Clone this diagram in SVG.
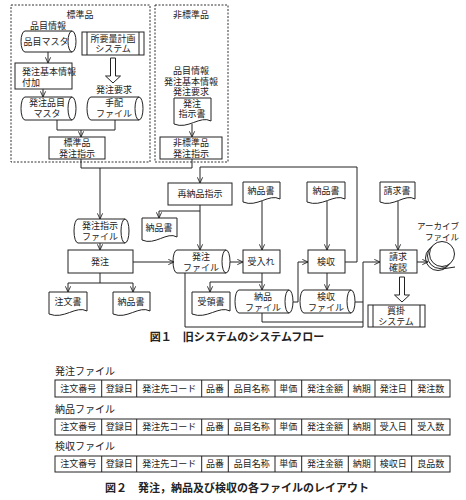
<svg xmlns="http://www.w3.org/2000/svg" width="466" height="500" viewBox="0 0 466 500">
<defs>
<marker id="ar" viewBox="0 0 8 8" refX="7.5" refY="4" markerWidth="7" markerHeight="7" markerUnits="userSpaceOnUse" orient="auto">
<path d="M1,1 L7.5,4 L1,7" fill="none" stroke="#222" stroke-width="1"/>
</marker>
</defs>
<style>
text{font-family:"Liberation Sans","Noto Sans CJK JP",sans-serif;font-size:9px;fill:#222;text-anchor:middle;dominant-baseline:central}
.s{fill:#fff;stroke:#222;stroke-width:1}
.d{fill:none;stroke:#333;stroke-width:1;stroke-dasharray:2 1.5}
.c{fill:none;stroke:#222;stroke-width:1}
.a{fill:none;stroke:#222;stroke-width:1;marker-end:url(#ar)}
.l{text-anchor:start}
.cap{font-size:11px;font-weight:bold}
.t{font-size:10px}
.sm{font-size:8.5px}
</style>
<rect width="466" height="500" fill="#fff"/>

<g id="std">
<rect class="d" x="11" y="5" width="139" height="157"/>
<text x="80" y="15">標準品</text>
<text x="48" y="26">品目情報</text>
</g>
<g id="hinmoku-master">
<path class="s" d="M25,31 H72 A4,10.5 0 0 1 72,52 A4,10.5 0 0 1 72,31 M72,52 H25 A4,10.5 0 0 1 25,31"/>
<text x="46" y="42">品目マスタ</text>
</g>
<g id="shoyoryo">
<rect class="s" x="82" y="32" width="62" height="23"/>
<line class="c" x1="87" y1="32" x2="87" y2="55"/>
<line class="c" x1="139" y1="32" x2="139" y2="55"/>
<text x="113" y="38.5">所要量計画</text>
<text x="113" y="49">システム</text>
</g>
<g id="fuka">
<rect class="s" x="15" y="63" width="57" height="26"/>
<text class="l" x="22" y="71.5">発注基本情報</text>
<text class="l" x="22" y="82.5">付加</text>
</g>
<g id="hatchu-hinmoku-master">
<path class="s" d="M25,97 H72 A4,11.5 0 0 1 72,120 A4,11.5 0 0 1 72,97 M72,120 H25 A4,11.5 0 0 1 25,97"/>
<text x="47" y="103">発注品目</text>
<text x="47" y="114">マスタ</text>
</g>
<g id="tehai">
<text x="114" y="90">発注要求</text>
<path class="s" d="M91,97 H139 A4,11.5 0 0 1 139,120 A4,11.5 0 0 1 139,97 M139,120 H91 A4,11.5 0 0 1 91,97"/>
<text x="114" y="103">手配</text>
<text x="114" y="114">ファイル</text>
</g>
<g id="std-shiji">
<rect class="s" x="49" y="137" width="56" height="22"/>
<text x="77" y="142.5">標準品</text>
<text x="77" y="153.5">発注指示</text>
</g>

<g id="nonstd">
<rect class="d" x="155" y="5" width="73" height="157"/>
<text x="191" y="15">非標準品</text>
<text x="191" y="71">品目情報</text>
<text x="191" y="81.5">発注基本情報</text>
<text x="191" y="92">発注要求</text>
</g>
<g id="shijisho">
<path class="s" d="M174,98 H211 V121 C200,115 188,130 174,124 Z"/>
<text x="192" y="104">発注</text>
<text x="192" y="114">指示書</text>
</g>
<g id="nonstd-shiji">
<rect class="s" x="160" y="137" width="62" height="22"/>
<text x="191" y="142.5">非標準品</text>
<text x="191" y="153.5">発注指示</text>
</g>

<g id="shiji-file">
<path class="s" d="M78,219 H125 A4,12 0 0 1 125,243 A4,12 0 0 1 125,219 M125,243 H78 A4,12 0 0 1 78,219"/>
<text x="100" y="225.5">発注指示</text>
<text x="100" y="236.5">ファイル</text>
</g>
<g id="hatchu">
<rect class="s" x="68" y="250" width="65" height="23"/>
<text x="100" y="262">発注</text>
</g>
<g id="chumonsho">
<path class="s" d="M49,292 H87 V311 C76,305 64,320 49,314 Z"/>
<text x="68" y="302">注文書</text>
</g>
<g id="nohinsho1">
<path class="s" d="M113,292 H150 V311 C139,305 127,320 113,314 Z"/>
<text x="131" y="302">納品書</text>
</g>
<g id="sainohin">
<rect class="s" x="168" y="183" width="64" height="22"/>
<text x="200" y="194">再納品指示</text>
</g>
<g id="nohinsho2">
<path class="s" d="M142,218 H177 V237 C167,231 155,246 142,240 Z"/>
<text x="159" y="228">納品書</text>
</g>
<g id="hatchu-file">
<path class="s" d="M177,250 H226 A4,11.5 0 0 1 226,273 A4,11.5 0 0 1 226,250 M226,273 H177 A4,11.5 0 0 1 177,250"/>
<text x="201" y="256.5">発注</text>
<text x="201" y="267.5">ファイル</text>
</g>
<g id="nohinsho3">
<path class="s" d="M243,182 H280 V199 C269,193 257,208 243,202 Z"/>
<text x="261" y="191">納品書</text>
</g>
<g id="ukeire">
<rect class="s" x="243" y="250" width="37" height="23"/>
<text x="261" y="262">受入れ</text>
</g>
<g id="juryosho">
<path class="s" d="M192,292 H230 V311 C219,305 207,320 192,314 Z"/>
<text x="211" y="302">受領書</text>
</g>
<g id="nohin-file">
<path class="s" d="M239,290 H289 A4,11.5 0 0 1 289,313 A4,11.5 0 0 1 289,290 M289,313 H239 A4,11.5 0 0 1 239,290"/>
<text x="263" y="296.5">納品</text>
<text x="263" y="307.5">ファイル</text>
</g>
<g id="nohinsho4">
<path class="s" d="M307,182 H345 V199 C334,193 322,208 307,202 Z"/>
<text x="326" y="191">納品書</text>
</g>
<g id="kenshu">
<rect class="s" x="308" y="250" width="37" height="23"/>
<text x="326" y="262">検収</text>
</g>
<g id="kenshu-file">
<path class="s" d="M304,290 H351 A4,11.5 0 0 1 351,313 A4,11.5 0 0 1 351,290 M351,313 H304 A4,11.5 0 0 1 304,290"/>
<text x="326" y="296.5">検収</text>
<text x="326" y="307.5">ファイル</text>
</g>
<g id="seikyusho">
<path class="s" d="M380,182 H415 V199 C405,193 393,208 380,202 Z"/>
<text x="397" y="191">請求書</text>
</g>
<g id="seikyu-kakunin">
<rect class="s" x="380" y="250" width="37" height="23"/>
<text x="398" y="256.5">請求</text>
<text x="398" y="267.5">確認</text>
</g>
<g id="archive">
<text class="sm" x="438" y="226">アーカイブ</text>
<text class="sm" x="442" y="237">ファイル</text>
<circle class="c" cx="438" cy="258" r="12.5"/>
<circle class="c" cx="440" cy="256" r="12.5"/>
<circle class="s" cx="442" cy="254" r="12.5"/>
<line class="c" x1="442" y1="269" x2="455" y2="267"/>
</g>
<g id="kaikake">
<rect class="s" x="368" y="305" width="57" height="22"/>
<line class="c" x1="373" y1="305" x2="373" y2="327"/>
<line class="c" x1="420" y1="305" x2="420" y2="327"/>
<text x="396" y="311">買掛</text>
<text x="396" y="321.5">システム</text>
</g>

<g id="connectors">
<line class="a" x1="48" y1="52" x2="48" y2="63"/>
<line class="a" x1="43" y1="89" x2="43" y2="97"/>
<path class="s" d="M110.5,58 H115.5 V76 H120.5 L113,83 L105.5,76 H110.5 Z"/>
<polyline class="c" points="57,120 57,130 115,130 115,120"/>
<line class="a" x1="81" y1="130" x2="81" y2="137"/>
<line class="a" x1="192" y1="124" x2="192" y2="137"/>
<polyline class="c" points="81,159 81,168 192,168 192,159"/>
<line class="a" x1="100" y1="168" x2="100" y2="219"/>
<line class="a" x1="100" y1="243" x2="100" y2="250"/>
<line class="a" x1="133" y1="262" x2="174" y2="262"/>
<line class="c" x1="100" y1="273" x2="100" y2="283"/>
<line class="c" x1="68" y1="283" x2="133" y2="283"/>
<line class="a" x1="68" y1="283" x2="68" y2="292"/>
<line class="a" x1="133" y1="283" x2="133" y2="292"/>
<polyline class="a" points="345,262 357,262 357,167 200,167 200,183"/>
<line class="a" x1="200" y1="205" x2="200" y2="250"/>
<polyline class="a" points="200,211 159,211 159,218"/>
<line class="a" x1="230" y1="262" x2="243" y2="262"/>
<line class="a" x1="262" y1="201" x2="262" y2="250"/>
<line class="a" x1="262" y1="273" x2="262" y2="290"/>
<polyline class="a" points="262,282 210,282 210,292"/>
<polyline class="a" points="293,302 298,302 298,262 308,262"/>
<line class="a" x1="327" y1="201" x2="327" y2="250"/>
<line class="a" x1="327" y1="273" x2="327" y2="290"/>
<line class="c" x1="355" y1="302" x2="363" y2="302"/>
<polyline class="c" points="262,313 262,322 363,322"/>
<polyline class="a" points="185,273 185,327 363,327 363,262 380,262"/>
<line class="a" x1="398" y1="201" x2="398" y2="250"/>
<line class="a" x1="417" y1="262" x2="428" y2="262"/>
<path class="s" d="M399.5,277 H404.5 V295 H409.5 L402,302 L394.5,295 H399.5 Z"/>
</g>

<text class="cap" x="237" y="337">図１　旧システムのシステムフロー</text>

<g id="tables">
<text class="t l" x="55" y="371">発注ファイル</text>
<text class="t l" x="55" y="409">納品ファイル</text>
<text class="t l" x="55" y="446">検収ファイル</text>
<g class="c">
<rect x="55" y="380" width="395" height="17"/>
<rect x="55" y="419" width="395" height="16"/>
<rect x="55" y="456" width="395" height="16"/>
<path d="M101.7,380V397M136.7,380V397M201.7,380V397M228.3,380V397M275,380V397M301.7,380V397M348.3,380V397M375,380V397M411.7,380V397"/>
<path d="M101.7,419V435M136.7,419V435M201.7,419V435M228.3,419V435M275,419V435M301.7,419V435M348.3,419V435M375,419V435M411.7,419V435"/>
<path d="M101.7,456V472M136.7,456V472M201.7,456V472M228.3,456V472M275,456V472M301.7,456V472M348.3,456V472M375,456V472M411.7,456V472"/>
</g>
<text x="78.3" y="388.5">注文番号</text><text x="119.2" y="388.5">登録日</text><text x="169.2" y="388.5">発注先コード</text><text x="215" y="388.5">品番</text><text x="251.7" y="388.5">品目名称</text><text x="288.3" y="388.5">単価</text><text x="325" y="388.5">発注金額</text><text x="361.7" y="388.5">納期</text><text x="393.3" y="388.5">発注日</text><text x="430.8" y="388.5">発注数</text>
<text x="78.3" y="427">注文番号</text><text x="119.2" y="427">登録日</text><text x="169.2" y="427">発注先コード</text><text x="215" y="427">品番</text><text x="251.7" y="427">品目名称</text><text x="288.3" y="427">単価</text><text x="325" y="427">発注金額</text><text x="361.7" y="427">納期</text><text x="393.3" y="427">受入日</text><text x="430.8" y="427">受入数</text>
<text x="78.3" y="464">注文番号</text><text x="119.2" y="464">登録日</text><text x="169.2" y="464">発注先コード</text><text x="215" y="464">品番</text><text x="251.7" y="464">品目名称</text><text x="288.3" y="464">単価</text><text x="325" y="464">発注金額</text><text x="361.7" y="464">納期</text><text x="393.3" y="464">検収日</text><text x="430.8" y="464">良品数</text>
</g>

<text class="cap" x="237" y="488">図２　発注，納品及び検収の各ファイルのレイアウト</text>
</svg>
